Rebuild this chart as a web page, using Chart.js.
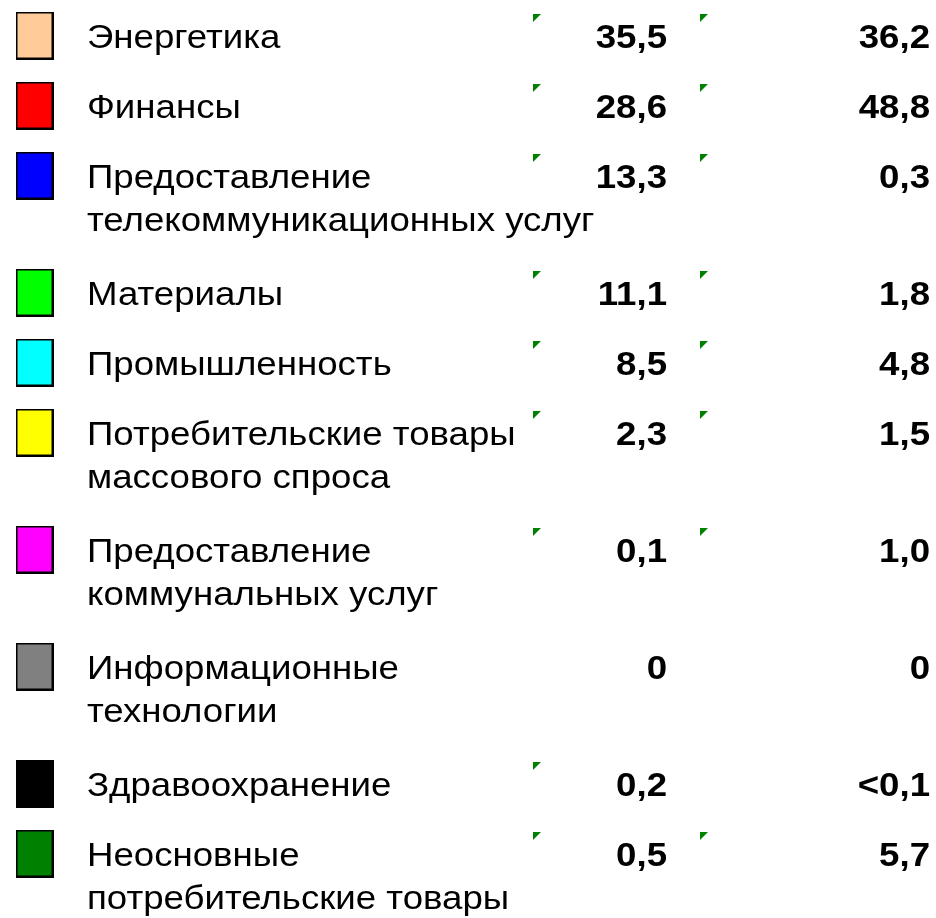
<!DOCTYPE html>
<html><head><meta charset="utf-8">
<script src="https://cdn.jsdelivr.net/npm/chart.js@4/dist/chart.umd.min.js"></script>
<style>html,body{margin:0;padding:0;background:#fff}#wrap{width:936px;height:918px;position:relative}</style>
</head><body><div id="wrap"><canvas id="c"></canvas></div>
<script>
// ---- data ----
const categories = [
  'Энергетика',
  'Финансы',
  'Предоставление\nтелекоммуникационных услуг',
  'Материалы',
  'Промышленность',
  'Потребительские товары\nмассового спроса',
  'Предоставление\nкоммунальных услуг',
  'Информационные\nтехнологии',
  'Здравоохранение',
  'Неосновные\nпотребительские товары'
];
const valuesA = ['35,5', '28,6', '13,3', '11,1', '8,5', '2,3', '0,1', '0', '0,2', '0,5'];
const valuesB = ['36,2', '48,8', '0,3', '1,8', '4,8', '1,5', '1,0', '0', '<0,1', '5,7'];
const textFlagA = [true, true, true, true, true, true, true, false, true, true];
const textFlagB = [true, true, true, true, true, true, true, false, false, true];

// ---- styles / layout ----
const swatchColors = ['#FFCC99', '#FF0000', '#0000FF', '#00FF00', '#00FFFF', '#FFFF00', '#FF00FF', '#808080', '#000000', '#008000'];
const FIRST_BASELINE = 48, ROW_STEP = 70, EXTRA_LINE = 47, LINE_H = 43;
const SWATCH_X = 34.5, LABEL_X = 87, COL_A_RIGHT = 667, COL_B_RIGHT = 930;
const FLAG_A_X = 537, FLAG_B_X = 704;
const FONT_PX = 33, SX = 1.11;
const FONT_FAMILY = '"Liberation Sans", Arial, sans-serif';

const baselines = [];
{ let y = FIRST_BASELINE;
  categories.forEach(c => { baselines.push(y); y += ROW_STEP + EXTRA_LINE * (c.split('\n').length - 1); }); }

function swatch(color) {
  const cv = document.createElement('canvas'); cv.width = 38; cv.height = 48;
  const g = cv.getContext('2d');
  g.fillStyle = color; g.fillRect(1, 1, 36, 46);
  g.strokeStyle = '#000'; g.lineWidth = 2; g.strokeRect(1, 1, 36, 46);
  return cv;
}
function flag() {
  const cv = document.createElement('canvas'); cv.width = 8; cv.height = 8;
  const g = cv.getContext('2d');
  g.fillStyle = '#008000'; g.beginPath(); g.moveTo(0, 0); g.lineTo(8, 0); g.lineTo(0, 8); g.closePath(); g.fill();
  return cv;
}
const flagImg = flag();

const textPlugin = {
  id: 'tableText',
  afterDatasetsDraw(chart) {
    const ctx = chart.ctx;
    ctx.save();
    ctx.fillStyle = '#000';
    ctx.textBaseline = 'alphabetic';
    const draw = (t, x, y, align, bold) => {
      ctx.save();
      ctx.font = (bold ? 'bold ' : '') + FONT_PX + 'px ' + FONT_FAMILY;
      ctx.textAlign = align;
      ctx.translate(x, y); ctx.scale(SX, 1); ctx.fillText(t, 0, 0);
      ctx.restore();
    };
    const xs = chart.scales.x, ys = chart.scales.y;
    categories.forEach((c, i) => {
      const y0 = ys.getPixelForValue(baselines[i]);
      c.split('\n').forEach((line, k) => draw(line, xs.getPixelForValue(LABEL_X), y0 + k * LINE_H, 'left', false));
    });
    chart.getDatasetMeta(1).data.forEach((p, i) => draw(valuesA[i], p.x, p.y, 'right', true));
    chart.getDatasetMeta(2).data.forEach((p, i) => draw(valuesB[i], p.x, p.y, 'right', true));
    ctx.restore();
  }
};

const flagPoints = (flags, x) => flags.map((f, i) => f ? { x, y: baselines[i] - 30 } : null).filter(Boolean);

new Chart(document.getElementById('c'), {
  type: 'scatter',
  data: {
    datasets: [
      { label: 'swatches', data: categories.map((c, i) => ({ x: SWATCH_X, y: baselines[i] - 12.5 })),
        pointStyle: swatchColors.map(swatch), pointRadius: 20 },
      { label: 'A', data: valuesA.map((v, i) => ({ x: COL_A_RIGHT, y: baselines[i] })), pointRadius: 0 },
      { label: 'B', data: valuesB.map((v, i) => ({ x: COL_B_RIGHT, y: baselines[i] })), pointRadius: 0 },
      { label: 'flagsA', data: flagPoints(textFlagA, FLAG_A_X), pointStyle: flagImg, pointRadius: 4 },
      { label: 'flagsB', data: flagPoints(textFlagB, FLAG_B_X), pointStyle: flagImg, pointRadius: 4 }
    ]
  },
  options: {
    responsive: true, maintainAspectRatio: false, animation: false,
    layout: { padding: 0, autoPadding: false },
    plugins: { legend: { display: false }, tooltip: { enabled: false } },
    scales: {
      x: { type: 'linear', min: 0, max: 936, display: false },
      y: { type: 'linear', min: 0, max: 918, reverse: true, display: false }
    },
    events: []
  },
  plugins: [textPlugin]
});
</script></body></html>
